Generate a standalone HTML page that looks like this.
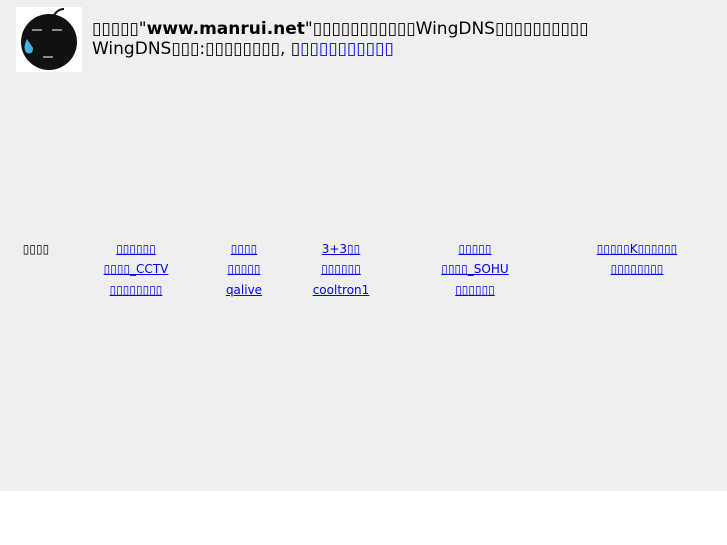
<html><head><style>
body{margin:0;width:727px;height:545px;background:#fff;font-family:"DejaVu Sans","Liberation Sans",sans-serif;}
#bg{position:absolute;left:0;top:0;width:727px;height:491px;background:#efefef;}
.t{position:absolute;left:92px;font-size:17px;color:#000;white-space:nowrap;line-height:20px}
a{color:#00e;text-decoration:underline}
.c{position:absolute;font-size:12px;white-space:nowrap;transform:translateX(-50%);line-height:14px}
</style></head><body>
<div id="bg"></div>
<svg style="position:absolute;left:16px;top:7px" width="66" height="65">
<rect width="66" height="65" fill="#fff"/>
<ellipse cx="33" cy="35" rx="28" ry="28" fill="#111"/>
<path d="M38 8 q4 -6 10 -6" stroke="#111" stroke-width="2" fill="none"/>
<line x1="16" y1="23" x2="26" y2="23" stroke="#888" stroke-width="2"/>
<line x1="36" y1="23" x2="46" y2="23" stroke="#888" stroke-width="2"/>
<path d="M11 32 q-5 10 0 14 q6 2 6 -5 z" fill="#4ab0e0"/>
<line x1="27" y1="50" x2="37" y2="50" stroke="#888" stroke-width="2"/>
</svg>
<div class="t" style="top:19px">▯▯▯▯▯"<b>www.manrui.net</b>"▯▯▯▯▯▯▯▯▯▯▯WingDNS▯▯▯▯▯▯▯▯▯▯</div>
<div class="t" style="top:39px">WingDNS▯▯▯:▯▯▯▯▯▯▯▯, ▯<a>▯▯▯▯▯▯▯▯▯▯</a></div>
<div class="c" style="left:36px;top:242px">▯▯▯▯</div>
<div class="c" style="left:136px;top:242px"><a>▯▯▯▯▯▯</a></div>
<div class="c" style="left:244px;top:242px"><a>▯▯▯▯</a></div>
<div class="c" style="left:341px;top:242px"><a>3+3▯▯</a></div>
<div class="c" style="left:475px;top:242px"><a>▯▯▯▯▯</a></div>
<div class="c" style="left:637px;top:242px"><a>▯▯▯▯▯K▯▯▯▯▯▯</a></div>
<div class="c" style="left:136px;top:262px"><a>▯▯▯▯_CCTV</a></div>
<div class="c" style="left:244px;top:262px"><a>▯▯▯▯▯</a></div>
<div class="c" style="left:341px;top:262px"><a>▯▯▯▯▯▯</a></div>
<div class="c" style="left:475px;top:262px"><a>▯▯▯▯_SOHU</a></div>
<div class="c" style="left:637px;top:262px"><a>▯▯▯▯▯▯▯▯</a></div>
<div class="c" style="left:136px;top:283px"><a>▯▯▯▯▯▯▯▯</a></div>
<div class="c" style="left:244px;top:283px"><a>qalive</a></div>
<div class="c" style="left:341px;top:283px"><a>cooltron1</a></div>
<div class="c" style="left:475px;top:283px"><a>▯▯▯▯▯▯</a></div>
</body></html>
